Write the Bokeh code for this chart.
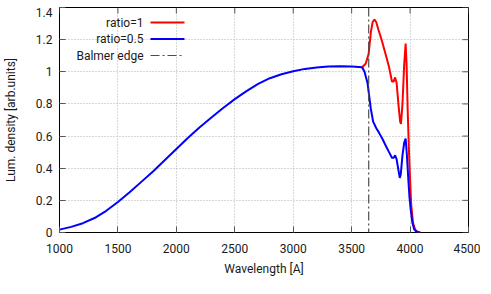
from bokeh.plotting import figure
from bokeh.models import Range1d, FixedTicker, Label, Arrow, Span, ColumnDataSource, Spacer
from bokeh.layouts import column
from bokeh.embed import file_html
from bokeh.resources import INLINE

# ---- data ----
wl_base = [1000, 1100, 1200, 1300, 1400, 1500, 1600, 1700, 1800, 1900, 2000, 2100,
           2200, 2300, 2400, 2500, 2600, 2700, 2800, 2900, 3000, 3100, 3200, 3300,
           3400, 3500, 3590]
lum_base = [0.018, 0.035, 0.058, 0.090, 0.135, 0.19, 0.25, 0.315, 0.38, 0.45, 0.52, 0.59,
            0.655, 0.715, 0.775, 0.83, 0.88, 0.925, 0.96, 0.985, 1.003, 1.018, 1.027, 1.033,
            1.035, 1.033, 1.028]

wl_ratio1 = [3590, 3620, 3645, 3665, 3680, 3695, 3710, 3730, 3760, 3790, 3820, 3845, 3860,
             3872, 3885, 3900, 3915, 3922, 3935, 3950, 3962, 3970, 3980, 3990, 4000, 4010,
             4025, 4045, 4070, 4090]
lum_ratio1 = [1.028, 1.05, 1.11, 1.25, 1.31, 1.325, 1.31, 1.26, 1.19, 1.11, 1.03, 0.94, 0.94,
              0.965, 0.93, 0.80, 0.69, 0.675, 0.80, 1.05, 1.175, 1.05, 0.75, 0.52, 0.33, 0.17,
              0.06, 0.015, 0.002, 0.0]

wl_ratio05 = [3590, 3610, 3636, 3650, 3664, 3684, 3710, 3735, 3765, 3792, 3820, 3845, 3860,
              3872, 3885, 3900, 3912, 3920, 3935, 3950, 3962, 3972, 3985, 3995, 4005, 4020,
              4035, 4055, 4085]
lum_ratio05 = [1.028, 1.0, 0.93, 0.85, 0.77, 0.69, 0.65, 0.62, 0.58, 0.54, 0.50, 0.465, 0.465,
               0.48, 0.455, 0.39, 0.34, 0.36, 0.48, 0.56, 0.585, 0.49, 0.33, 0.22, 0.145, 0.06,
               0.02, 0.005, 0.0]

balmer_edge = 3646

x_ticks = [1000, 1500, 2000, 2500, 3000, 3500, 4000, 4500]
y_ticks = [0, 0.2, 0.4, 0.6, 0.8, 1, 1.2, 1.4]
y_tick_labels = ["0", "0.2", "0.4", "0.6", "0.8", "1", "1.2", "1.4"]
legend_labels = ["ratio=1", "ratio=0.5", "Balmer edge"]

X_MIN, X_MAX = 1000, 4500
Y_MIN, Y_MAX = 0, 1.4
FW, FH = 409, 225

FONT = "Roboto"
TXT = "#1a1a1a"
TICK = "#555555"

p = figure(frame_width=FW, frame_height=FH, output_backend="svg", toolbar_location=None,
           x_range=Range1d(X_MIN, X_MAX), y_range=Range1d(Y_MIN, Y_MAX),
           min_border_left=54, min_border_right=12, min_border_top=0, min_border_bottom=0)
p.background_fill_color = "white"
p.border_fill_color = "white"
p.outline_line_color = "black"
p.outline_line_width = 1

# grid
for g in (p.xgrid, p.ygrid):
    g.grid_line_color = "#b0b0b0"
    g.grid_line_dash = "1 2"
    g.grid_line_width = 1
p.xgrid.ticker = FixedTicker(ticks=x_ticks)
p.ygrid.ticker = FixedTicker(ticks=y_ticks)

# main axes
xa = p.xaxis[0]
ya = p.yaxis[0]
xa.ticker = FixedTicker(ticks=x_ticks)
ya.ticker = FixedTicker(ticks=y_ticks)
ya.major_label_overrides = {t: l for t, l in zip(y_ticks, y_tick_labels)}
xa.axis_label = "Wavelength [A]"
ya.axis_label = "Lum. density [arb.units]"
for ax in (xa, ya):
    ax.axis_line_color = None
    ax.major_tick_in = 6
    ax.major_tick_out = 0
    ax.major_tick_line_color = TICK
    ax.minor_tick_line_color = None
    ax.major_label_text_font = FONT
    ax.major_label_text_font_size = "12px"
    ax.major_label_text_color = TXT
    ax.axis_label_text_font = FONT
    ax.axis_label_text_font_size = "12px"
    ax.axis_label_text_font_style = "normal"
    ax.axis_label_text_color = TXT
xa.major_label_standoff = 11
xa.axis_label_standoff = 6
ya.major_label_standoff = 7
ya.axis_label_standoff = 15

# mirrored ticks on top and right (gnuplot style), 6 px long
dx = 6 * (X_MAX - X_MIN) / FW
dy = 6 * (Y_MAX - Y_MIN) / FH
p.segment(x0=x_ticks, y0=[Y_MAX] * len(x_ticks), x1=x_ticks, y1=[Y_MAX - dy] * len(x_ticks),
          line_color=TICK, line_width=1)
p.segment(x0=[X_MAX] * len(y_ticks), y0=y_ticks, x1=[X_MAX - dx] * len(y_ticks), y1=y_ticks,
          line_color=TICK, line_width=1)

# Balmer edge
p.add_layout(Span(location=balmer_edge, dimension="height", line_color="#4d4d4d",
                  line_width=1.2, line_dash="9 3 2 3"))

# curves
src_base = ColumnDataSource(dict(x=wl_base, y=lum_base))
src_r1 = ColumnDataSource(dict(x=wl_ratio1, y=lum_ratio1))
src_r05 = ColumnDataSource(dict(x=wl_ratio05, y=lum_ratio05))
p.line("x", "y", source=src_r1, line_color="#ff0000", line_width=2)
p.line("x", "y", source=src_base, line_color="#0000ff", line_width=2)
p.line("x", "y", source=src_r05, line_color="#0000ff", line_width=2)

# gnuplot-style legend: text right-aligned, sample to the right (screen units from frame bottom-left)
leg_styles = [("#ff0000", 2, "solid"), ("#0000ff", 2, "solid"), ("#4d4d4d", 1.2, "9 3 2 3")]
for i, (lab, (col, lw, dash)) in enumerate(zip(legend_labels, leg_styles)):
    ys = 210 - 16.5 * i
    p.add_layout(Label(x=84, y=ys, x_units="screen", y_units="screen", text=lab,
                       text_align="right", text_baseline="middle", text_font=FONT,
                       text_font_size="12px", text_color=TXT))
    p.add_layout(Arrow(x_start=91, y_start=ys, x_end=125, y_end=ys,
                       start_units="screen", end_units="screen", end=None,
                       line_color=col, line_width=lw, line_dash=dash))

page = column(Spacer(height=7, width=10), p, spacing=0)
open("out.html", "w").write(file_html(page, INLINE))
